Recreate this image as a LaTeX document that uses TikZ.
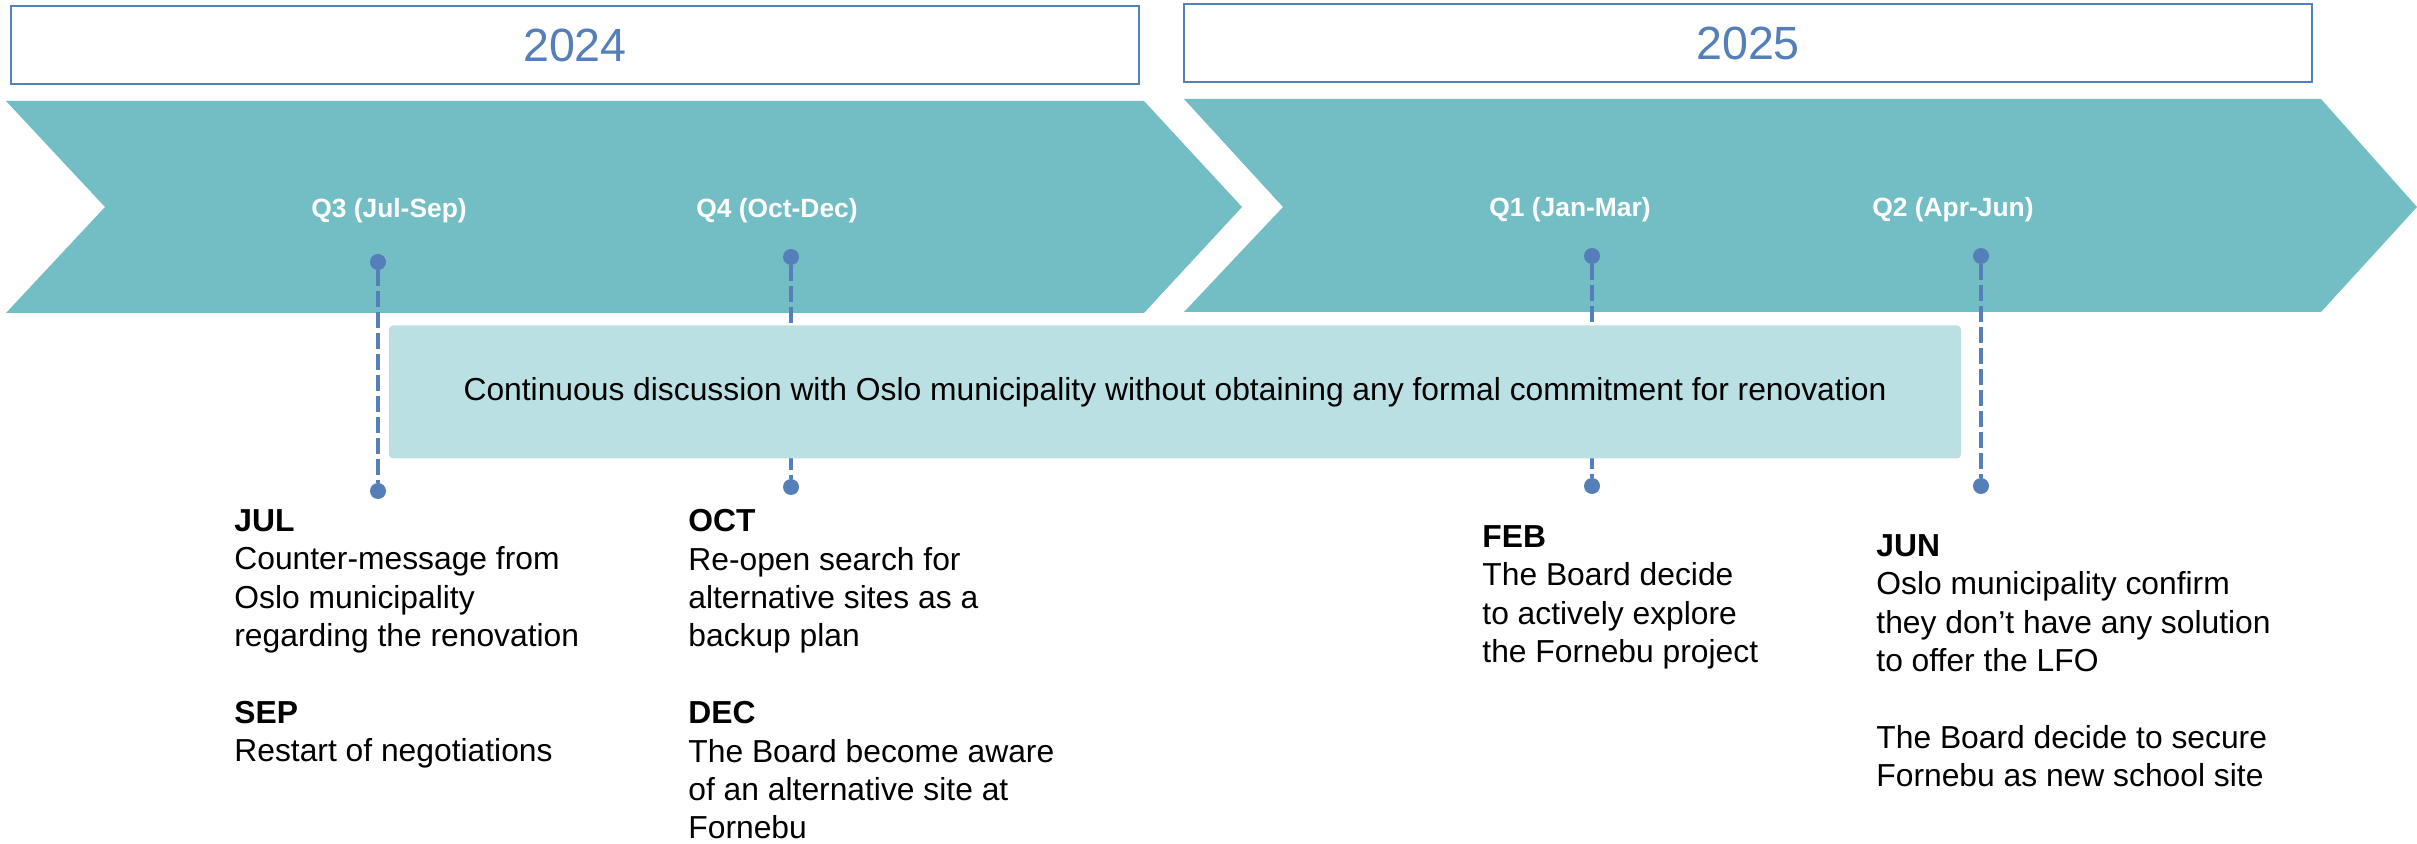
\documentclass[tikz,border=0pt]{standalone}
\usepackage{fontspec}
\setmainfont{Liberation Sans}
\usepackage{tikz}
\definecolor{band}{RGB}{115,190,197}
\definecolor{bandlight}{RGB}{186,224,227}
\definecolor{steel}{RGB}{84,127,184}
\tikzstyle{yearbox} = [draw=steel, line width=1.2pt, fill=white, minimum width=564pt, minimum height=39pt, inner sep=0pt, text=steel, font=\fontsize{23.3}{28}\selectfont]
\tikzstyle{quarter} = [anchor=base, inner sep=0pt, text=white, font=\bfseries\fontsize{13.2}{16}\selectfont]
\tikzstyle{dot} = [circle, fill=steel, inner sep=0pt, minimum size=8pt]
\tikzstyle{link} = [steel, line width=2pt, dash pattern=on 8pt off 2.5pt]
\tikzstyle{talk} = [fill=bandlight, rounded corners=2pt, minimum width=786pt, minimum height=66.5pt, inner sep=0pt, font=\fontsize{15.9}{19}\selectfont]
\tikzstyle{event} = [anchor=north west, align=left, inner sep=0pt, font=\fontsize{15.9}{19.2}\selectfont]

\begin{document}
\begin{tikzpicture}[x=0.5pt, y=-0.5pt]
        \useasboundingbox (0,0) rectangle (2417,844);
        % years
        \node[yearbox] at (575,45) (y24) {2024};
        \node[yearbox] at (1748,43) (y25) {2025};

        % chevrons
        \fill[band] (6,101) -- (1144,101) -- (1242,207) -- (1144,313) -- (6,313) -- (105,207) -- cycle;
        \fill[band] (1184,99) -- (2321,99) -- (2417,207) -- (2321,312) -- (1184,312) -- (1283,207) -- cycle;

        \node[quarter] at (389,218) (q3) {Q3 (Jul-Sep)};
        \node[quarter] at (777,218) (q4) {Q4 (Oct-Dec)};
        \node[quarter] at (1570,217) (q1) {Q1 (Jan-Mar)};
        \node[quarter] at (1953,217) (q2) {Q2 (Apr-Jun)};

        % milestone lines
        \node[dot] at (378,262) (jultop) {};
        \node[dot] at (378,491) (julbot) {};
        \node[dot] at (791,257) (octtop) {};
        \node[dot] at (791,487) (octbot) {};
        \node[dot] at (1592,256) (febtop) {};
        \node[dot] at (1592,486) (febbot) {};
        \node[dot] at (1981,256) (juntop) {};
        \node[dot] at (1981,486) (junbot) {};

        \draw[link] (jultop) -- (julbot);
        \draw[link] (octtop) -- (octbot);
        \draw[link] (febtop) -- (febbot);
        \draw[link] (juntop) -- (junbot);

        \node[talk] at (1175,392) (talk) {Continuous discussion with Oslo municipality without obtaining any formal commitment for renovation};

        % events
        \node[event] at (234,509) (jul) {\textbf{JUL}\\Counter-message from\\Oslo municipality\\regarding the renovation\\[19.2pt]\textbf{SEP}\\Restart of negotiations};
        \node[event] at (688,509) (oct) {\textbf{OCT}\\Re-open search for\\alternative sites as a\\backup plan\\[19.2pt]\textbf{DEC}\\The Board become aware\\of an alternative site at\\Fornebu};
        \node[event] at (1482,525) (feb) {\textbf{FEB}\\The Board decide\\to actively explore\\the Fornebu project};
        \node[event] at (1876,534) (jun) {\textbf{JUN}\\Oslo municipality confirm\\they don’t have any solution\\to offer the LFO\\[19.2pt]The Board decide to secure\\Fornebu as new school site};
    \end{tikzpicture}
\end{document}
